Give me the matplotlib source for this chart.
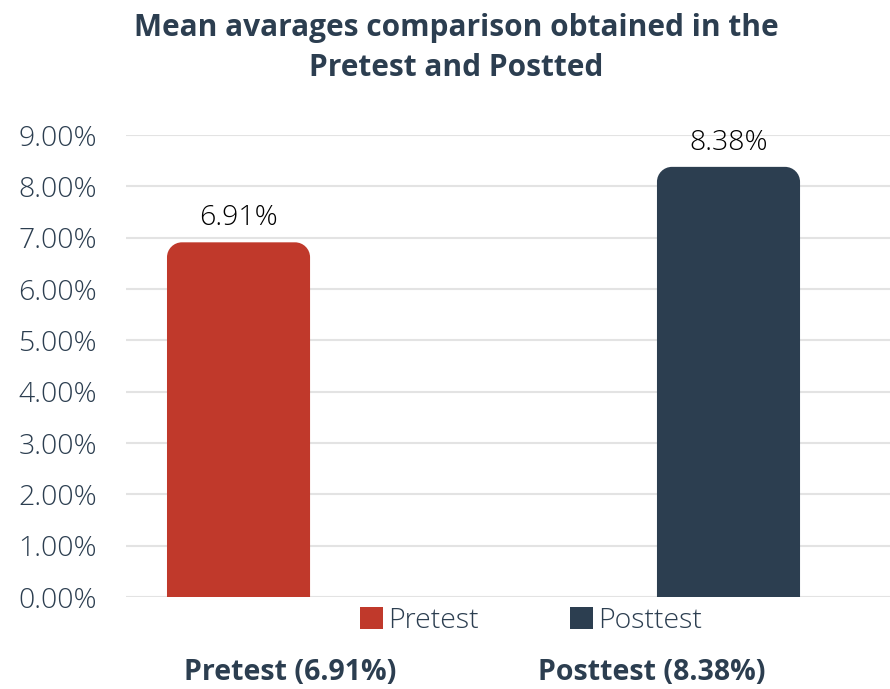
import matplotlib.pyplot as plt
from matplotlib.path import Path
from matplotlib.patches import PathPatch, Patch
from matplotlib.ticker import FuncFormatter

plt.rcParams['font.family'] = ['Open Sans', 'DejaVu Sans']

categories = ['Pretest', 'Posttest']
means = [6.91, 8.38]
colors = ['#c0392b', '#2c3e50']
ink = '#2c3e50'

fig = plt.figure(figsize=(8.9, 6.89), dpi=100)
ax = fig.add_axes([0.1416, 0.1335, 0.8584, 0.6705])
ax.set_xlim(-0.2296, 1.3296)
ax.set_ylim(0, 9)

bar_w = 0.292
radius_px = 15


def rounded_top_bar(ax, x, h, w, color):
    # corner radius given in pixels, converted per axis so corners stay circular
    fig_w, fig_h = ax.figure.get_size_inches() * ax.figure.dpi
    pos = ax.get_position()
    x0, x1 = ax.get_xlim()
    y0, y1 = ax.get_ylim()
    rx = radius_px / (pos.width * fig_w) * (x1 - x0)
    ry = radius_px / (pos.height * fig_h) * (y1 - y0)
    k = 0.5523
    l, r = x - w / 2, x + w / 2
    verts = [
        (l, 0), (l, h - ry),
        (l, h - ry + k * ry), (l + rx - k * rx, h), (l + rx, h),
        (r - rx, h),
        (r - rx + k * rx, h), (r, h - ry + k * ry), (r, h - ry),
        (r, 0), (l, 0),
    ]
    codes = [Path.MOVETO, Path.LINETO,
             Path.CURVE4, Path.CURVE4, Path.CURVE4,
             Path.LINETO,
             Path.CURVE4, Path.CURVE4, Path.CURVE4,
             Path.LINETO, Path.CLOSEPOLY]
    ax.add_patch(PathPatch(Path(verts, codes), facecolor=color, edgecolor='none', zorder=3))


for i, (cat, val, col) in enumerate(zip(categories, means, colors)):
    rounded_top_bar(ax, i, val, bar_w, col)
    ax.text(i, val + 0.2, f'{val:.2f}%', ha='center', va='bottom',
            fontsize=20.5, color='black', fontweight='light')

ax.set_yticks(range(0, 10))
ax.yaxis.set_major_formatter(FuncFormatter(lambda v, p: f'{v:.2f}%'))
ax.grid(axis='y', color='#e3e3e3', linewidth=1.5, zorder=0)
ax.set_xticks([])
ax.tick_params(axis='y', length=0, pad=21, labelsize=20.5, labelcolor=ink)
for lbl in ax.get_yticklabels():
    lbl.set_fontweight('light')
for s in ax.spines.values():
    s.set_visible(False)

handles = [Patch(facecolor=c, edgecolor='none', label=n) for n, c in zip(categories, colors)]
leg = fig.legend(handles=handles, loc='center', bbox_to_anchor=(531 / 890, 1 - 621 / 689),
                 ncol=2, frameon=False, fontsize=20.5, labelcolor=ink,
                 handlelength=0.8, handleheight=0.8, handletextpad=0.2, columnspacing=3.2)
for t in leg.get_texts():
    t.set_fontweight('light')

fig.text(290 / 890, 1 - 672 / 689, f'{categories[0]} ({means[0]:.2f}%)', ha='center', va='center',
         fontsize=20.5, fontweight='bold', color=ink)
fig.text(652 / 890, 1 - 672 / 689, f'{categories[1]} ({means[1]:.2f}%)', ha='center', va='center',
         fontsize=20.5, fontweight='bold', color=ink)

fig.text(456 / 890, 1 - 48 / 689, 'Mean avarages comparison obtained in the\nPretest and Postted',
         ha='center', va='center', fontsize=21.5, fontweight='bold', color=ink, linespacing=1.45)

fig.savefig('out.png', dpi=100)
